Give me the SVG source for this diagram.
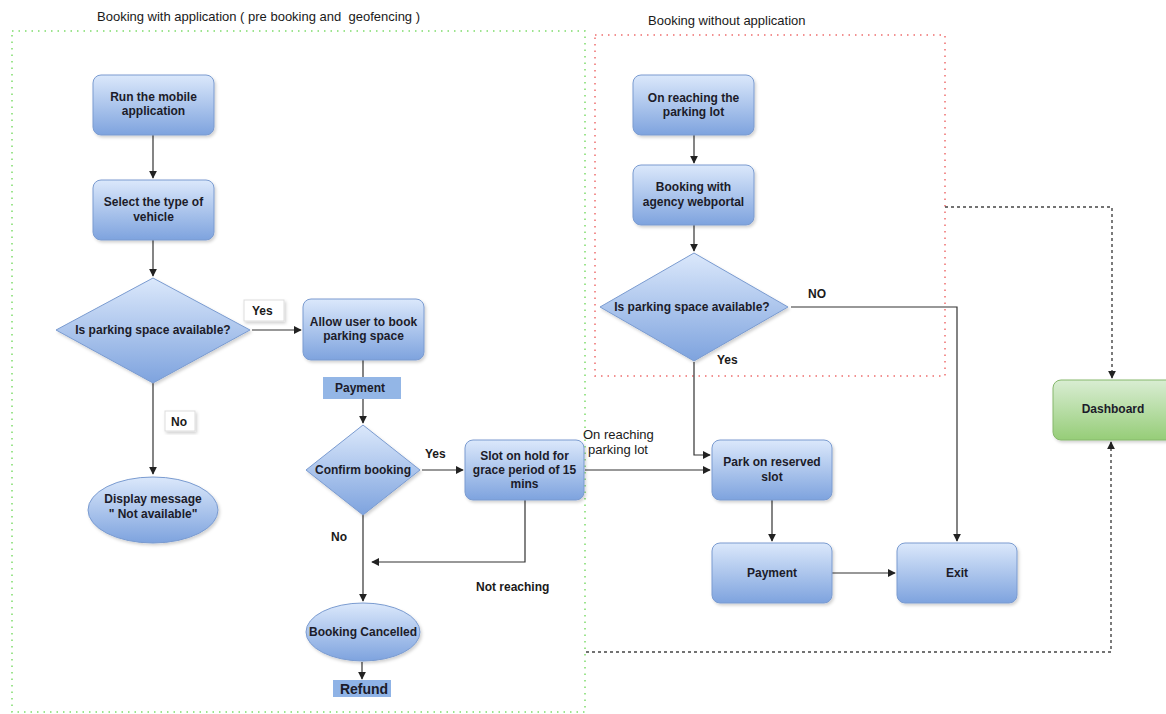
<svg xmlns="http://www.w3.org/2000/svg" width="1166" height="714" viewBox="0 0 1166 714">
<defs>
<linearGradient id="gb" x1="0" y1="0" x2="0" y2="1">
<stop offset="0" stop-color="#dbe8fb"/>
<stop offset="1" stop-color="#7ea3de"/>
</linearGradient>
<linearGradient id="gg" x1="0" y1="0" x2="0" y2="1">
<stop offset="0" stop-color="#d9edd3"/>
<stop offset="1" stop-color="#96cd78"/>
</linearGradient>
<filter id="sh" x="-10%" y="-10%" width="125%" height="130%">
<feDropShadow dx="1.5" dy="2" stdDeviation="1.5" flood-color="#000" flood-opacity="0.18"/>
</filter>
<marker id="ar" viewBox="0 0 10 10" refX="9" refY="5" markerWidth="8" markerHeight="8" markerUnits="userSpaceOnUse" orient="auto">
<path d="M0,0 L10,5 L0,10 Z" fill="#222"/>
</marker>
</defs>
<style>
.n{fill:url(#gb);stroke:#7a9bd0;stroke-width:1;filter:url(#sh)}
.g{fill:url(#gg);stroke:#86b86c;stroke-width:1;filter:url(#sh)}
.t{font-family:"Liberation Sans",Arial,sans-serif;font-size:12px;font-weight:bold;fill:#1c1c2a;text-anchor:middle}
.l{font-family:"Liberation Sans",Arial,sans-serif;font-size:12px;font-weight:bold;fill:#1a1a1a}
.h{font-family:"Liberation Sans",Arial,sans-serif;font-size:13px;fill:#1a1a1a}
.c{fill:none;stroke:#333;stroke-width:1.2}
.d{fill:none;stroke:#444;stroke-width:1.4;stroke-dasharray:3 3}
.lb{fill:#fff;stroke:#ddd;stroke-width:1;filter:url(#sh)}
</style>
<rect width="1166" height="714" fill="#fff"/>

<g id="containers">
<rect x="12" y="31" width="573" height="681" fill="none" stroke="#7ddc6a" stroke-width="1.5" stroke-dasharray="1.5 5"/>
<rect x="595" y="35" width="350" height="341" fill="none" stroke="#ee6e6e" stroke-width="1.5" stroke-dasharray="1.5 5"/>
<text class="h" x="97" y="21" xml:space="preserve">Booking with application ( pre booking and  geofencing )</text>
<text class="h" x="648" y="25">Booking without application</text>
</g>

<g id="connectors">
<path class="c" d="M153,135 V178" marker-end="url(#ar)"/>
<path class="c" d="M153,240 V276" marker-end="url(#ar)"/>
<path class="c" d="M252,330 H301" marker-end="url(#ar)"/>
<path class="c" d="M153,383 V474" marker-end="url(#ar)"/>
<path class="c" d="M363,360 V377"/>
<path class="c" d="M363,399 V423" marker-end="url(#ar)"/>
<path class="c" d="M422,470 H463" marker-end="url(#ar)"/>
<path class="c" d="M363,515 V601" marker-end="url(#ar)"/>
<path class="c" d="M525,500 V562 H372" marker-end="url(#ar)"/>
<path class="c" d="M362,662 V679" marker-end="url(#ar)"/>
<path class="c" d="M585,470 H710" marker-end="url(#ar)"/>
<path class="c" d="M694,135 V163" marker-end="url(#ar)"/>
<path class="c" d="M694,225 V251" marker-end="url(#ar)"/>
<path class="c" d="M791,307 H957 V541" marker-end="url(#ar)"/>
<path class="c" d="M694,362 V455 H710" marker-end="url(#ar)"/>
<path class="c" d="M772,500 V541" marker-end="url(#ar)"/>
<path class="c" d="M832,573 H895" marker-end="url(#ar)"/>
<path class="d" d="M945,207 H1112 V378" marker-end="url(#ar)"/>
<path class="d" d="M586,652 H1111 V442" marker-end="url(#ar)"/>
<text class="l" x="425" y="458">Yes</text>
<text class="h" x="583" y="439">On reaching</text>
<text class="h" x="588" y="454">parking lot</text>
<text class="l" x="331" y="541">No</text>
<text class="l" x="476" y="591">Not reaching</text>
<text class="l" x="808" y="298">NO</text>
<text class="l" x="717" y="364">Yes</text>
<rect class="lb" x="244" y="300" width="40" height="21"/>
<text class="l" x="252" y="315">Yes</text>
<rect class="lb" x="165" y="411" width="30" height="20"/>
<text class="l" x="171" y="426">No</text>
</g>

<g id="run-app">
<rect class="n" x="93" y="75" width="121" height="60" rx="8"/>
<text class="t" x="153.5" y="101">Run the mobile</text>
<text class="t" x="153.5" y="115">application</text>
</g>
<g id="select-vehicle">
<rect class="n" x="93" y="180" width="121" height="60" rx="8"/>
<text class="t" x="153.5" y="206">Select the type of</text>
<text class="t" x="153.5" y="221">vehicle</text>
</g>
<g id="is-available-app">
<path class="n" d="M153,278 L250,330 L153,383 L56,330 Z" stroke-linejoin="round"/>
<text class="t" x="153" y="334">Is parking space available?</text>
</g>
<g id="not-available">
<ellipse class="n" cx="153" cy="510" rx="65" ry="33"/>
<text class="t" x="153" y="503">Display message</text>
<text class="t" x="153" y="518">" Not available"</text>
</g>
<g id="allow-book">
<rect class="n" x="303" y="299" width="121" height="61" rx="8"/>
<text class="t" x="363.5" y="326">Allow user to book</text>
<text class="t" x="363.5" y="340">parking space</text>
</g>
<g id="payment-app">
<rect x="323" y="377" width="78" height="22" fill="#93b6e6"/>
<text class="t" x="360" y="392">Payment</text>
</g>
<g id="confirm-booking">
<path class="n" d="M363,425 L420,470 L363,515 L306,470 Z" stroke-linejoin="round"/>
<text class="t" x="363" y="474">Confirm booking</text>
</g>
<g id="slot-hold">
<rect class="n" x="465" y="440" width="119" height="60" rx="8"/>
<text class="t" x="524.5" y="460">Slot on hold for</text>
<text class="t" x="524.5" y="474">grace period of 15</text>
<text class="t" x="524.5" y="488">mins</text>
</g>
<g id="booking-cancelled">
<ellipse class="n" cx="363" cy="632" rx="57" ry="29"/>
<text class="t" x="363" y="636">Booking Cancelled</text>
</g>
<g id="refund">
<rect x="333" y="680" width="58" height="17" fill="#8fb3e6"/>
<text class="t" x="364" y="694" style="font-size:14px">Refund</text>
</g>

<g id="reach-lot">
<rect class="n" x="633" y="75" width="121" height="60" rx="8"/>
<text class="t" x="693.5" y="102">On reaching the</text>
<text class="t" x="693.5" y="116">parking lot</text>
</g>
<g id="agency-portal">
<rect class="n" x="633" y="165" width="121" height="60" rx="8"/>
<text class="t" x="693.5" y="191">Booking with</text>
<text class="t" x="693.5" y="206">agency webportal</text>
</g>
<g id="is-available-noapp">
<path class="n" d="M694,253 L788,307 L694,361 L600,307 Z" stroke-linejoin="round"/>
<text class="t" x="692" y="311">Is parking space available?</text>
</g>
<g id="park-slot">
<rect class="n" x="712" y="440" width="120" height="60" rx="8"/>
<text class="t" x="772" y="466">Park on reserved</text>
<text class="t" x="772" y="481">slot</text>
</g>
<g id="payment">
<rect class="n" x="712" y="543" width="120" height="60" rx="8"/>
<text class="t" x="772" y="577">Payment</text>
</g>
<g id="exit">
<rect class="n" x="897" y="543" width="120" height="60" rx="8"/>
<text class="t" x="957" y="577">Exit</text>
</g>
<g id="dashboard">
<rect class="g" x="1053" y="380" width="122" height="60" rx="8"/>
<text class="t" x="1113" y="413">Dashboard</text>
</g>
</svg>
